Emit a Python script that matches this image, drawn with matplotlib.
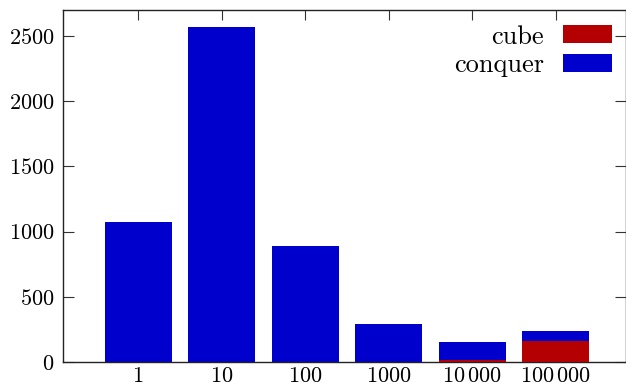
import matplotlib
matplotlib.use("Agg")
import matplotlib.pyplot as plt
import numpy as np

plt.rcParams['font.family'] = 'serif'
plt.rcParams['font.serif'] = ['cmr10']
plt.rcParams['mathtext.fontset'] = 'cm'
plt.rcParams['axes.unicode_minus'] = False
plt.rcParams['axes.formatter.use_mathtext'] = True

categories = [r'$1$', r'$10$', r'$100$', r'$1000$', r'$10\,000$', r'$100\,000$']
conquer = [1074, 2569, 888, 291, 156, 239]
cube = [0, 0, 0, 0, 14, 162]

fig = plt.figure(figsize=(6.26, 3.85), dpi=100)
ax = fig.add_axes([63 / 626, 23 / 385, 563 / 626, 352 / 385])

x = np.arange(len(categories))
ax.bar(x, conquer, width=0.8, color='#0000cc', label='conquer', zorder=2)
ax.bar(x, cube, width=0.8, color='#b40000', label='cube', zorder=3)

ax.set_xlim(-0.9, 5.84)
ax.set_ylim(0, 2700)
ax.set_xticks(x)
ax.set_xticklabels(categories)
ax.set_yticks([0, 500, 1000, 1500, 2000, 2500])
ax.set_axisbelow(True)
ax.tick_params(axis='both', direction='in', labelsize=16, top=True, right=True,
               width=0.8, color='#333333')
ax.tick_params(axis='y', length=8, pad=6)
ax.tick_params(axis='x', length=7, pad=3)
for s in ax.spines.values():
    s.set_linewidth(1.0)
    s.set_color('#222222')

h, l = ax.get_legend_handles_labels()
ax.legend(h[::-1], l[::-1], loc='upper right', frameon=False, markerfirst=False,
          fontsize=19, handlelength=1.86, handleheight=0.68, handletextpad=0.72,
          labelspacing=0.18, borderaxespad=0, borderpad=0,
          bbox_to_anchor=(0.975, 0.958))

fig.savefig('out.png', dpi=100)
